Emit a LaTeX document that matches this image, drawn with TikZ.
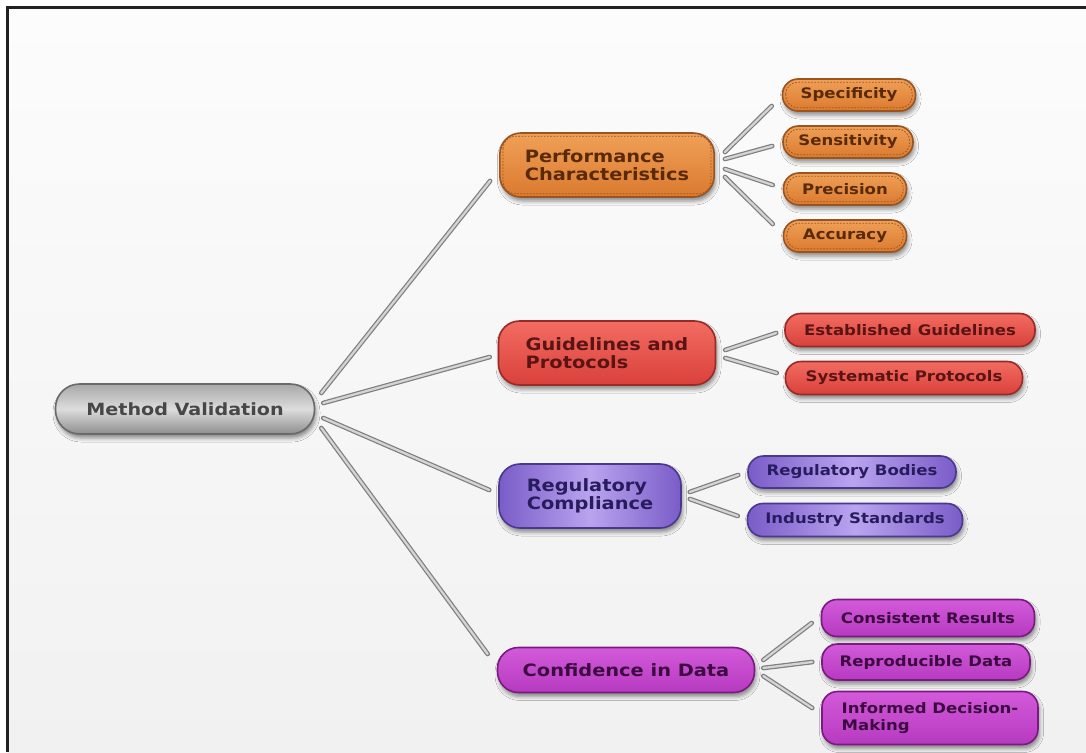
\documentclass[tikz,border=0pt]{standalone}
\usepackage{fontspec}
\newfontfamily\df[FakeStretch=1.14]{DejaVu Sans}
\usetikzlibrary{shadows.blur}
\definecolor{bgtop}{HTML}{FCFCFC}
\definecolor{bgbot}{HTML}{F1F1F1}
\definecolor{framecol}{HTML}{222222}
\definecolor{orA}{HTML}{F0A058}
\definecolor{orB}{HTML}{DA7A2E}
\definecolor{orD}{HTML}{9A5420}
\definecolor{orT}{HTML}{5A2A08}
\definecolor{rdA}{HTML}{F26C62}
\definecolor{rdB}{HTML}{D9413A}
\definecolor{rdD}{HTML}{9A2A26}
\definecolor{rdT}{HTML}{5A1414}
\definecolor{puA}{HTML}{7A5CC8}
\definecolor{puM}{HTML}{B9A4EF}
\definecolor{puD}{HTML}{4A3890}
\definecolor{puT}{HTML}{281C5E}
\definecolor{mgA}{HTML}{D35ADA}
\definecolor{mgB}{HTML}{B63AC0}
\definecolor{mgD}{HTML}{7A1A80}
\definecolor{mgT}{HTML}{3C0A40}
\definecolor{gyA}{HTML}{A8A8A8}
\definecolor{gyM}{HTML}{DCDCDC}
\definecolor{gyB}{HTML}{8E8E8E}
\definecolor{gyD}{HTML}{6A6A6A}
\definecolor{gyT}{HTML}{474747}
\definecolor{rodD}{HTML}{7E7E7E}
\definecolor{rodL}{HTML}{D4D4D4}
\begin{document}
\begin{tikzpicture}[x=1pt,y=-1pt,
  base/.style={line width=1.6pt, blur shadow={shadow xshift=1.5pt, shadow yshift=-4pt, shadow opacity=45, shadow blur radius=4pt}, inner ysep=2pt},
  rootbox/.style={base, rounded corners=24pt, minimum width=259pt, minimum height=50pt,
     top color=gyA, bottom color=gyB, middle color=gyM, draw=gyD, text=gyT,
     font=\df\bfseries\fontsize{16.8}{18}\selectfont},
  midbox/.style={base, rounded corners=21pt, inner xsep=25pt, align=left,
     font=\df\bfseries\fontsize{17}{18}\selectfont},
  leafbox/.style={base, rounded corners=15.5pt, inner xsep=10pt, align=center,
     font=\df\bfseries\fontsize{14.5}{17}\selectfont},
  orangec/.style={top color=orA, bottom color=orB, draw=orD, text=orT},
  redc/.style={top color=rdA, bottom color=rdB, draw=rdD, text=rdT},
  purplec/.style={left color=puA, right color=puA, middle color=puM, draw=puD, text=puT},
  magentac/.style={top color=mgA, bottom color=mgB, draw=mgD, text=mgT},
  stitch/.style={draw=orD, line width=0.8pt, dash pattern=on 1.6pt off 1.6pt, rounded corners=12pt},
  rod/.style={draw=rodD, line width=1.2pt, double=rodL, double distance=2.3pt, line cap=round}
]
\useasboundingbox (0,0) rectangle (1086,752);
\fill[white] (0,0) rectangle (1086,752);
\shade[top color=bgtop, bottom color=bgbot] (7.5,7.5) rectangle (1086,752);
\draw[line width=2.2pt, framecol] (7.5,752) -- (7.5,7.5) -- (1086,7.5);

% root
\node[rootbox] (root) at (185,409) {Method Validation};

% mid level
\node[midbox, orangec, minimum width=213pt, minimum height=64pt] (perf) at (607,165) {Performance\\Characteristics};
\node[midbox, redc, minimum width=217pt, minimum height=64pt] (guide) at (607,353) {Guidelines and\\Protocols};
\node[midbox, purplec, minimum width=182pt, minimum height=64pt] (reg) at (590,496) {Regulatory\\Compliance};
\node[midbox, magentac, minimum width=257pt, minimum height=45pt] (conf) at (626,670) {Confidence in Data};

% leaves
\node[leafbox, orangec, minimum width=133pt, minimum height=32pt] (spec) at (849,95) {Specificity};
\node[leafbox, orangec, minimum width=130pt, minimum height=32pt] (sens) at (848,142) {Sensitivity};
\node[leafbox, orangec, minimum width=123pt, minimum height=32pt] (prec) at (845,189) {Precision};
\node[leafbox, orangec, minimum width=123pt, minimum height=32pt] (acc) at (845,236) {Accuracy};

\node[leafbox, redc, minimum width=250pt, minimum height=33pt] (estab) at (910,330) {Established Guidelines};
\node[leafbox, redc, minimum width=237pt, minimum height=33pt] (syst) at (904,378) {Systematic Protocols};

\node[leafbox, purplec, minimum width=208pt, minimum height=32pt] (bodies) at (852,472) {Regulatory Bodies};
\node[leafbox, purplec, minimum width=215pt, minimum height=33pt] (indus) at (855,520) {Industry Standards};

\node[leafbox, magentac, minimum width=213pt, minimum height=37pt] (consist) at (928,618) {Consistent Results};
\node[leafbox, magentac, minimum width=208pt, minimum height=36pt] (repro) at (926,662) {Reproducible Data};
\node[leafbox, magentac, align=left, minimum width=216pt, minimum height=53pt] (inform) at (930,718) {Informed Decision-\\Making};

% stitching on orange boxes
\foreach \n in {perf,spec,sens,prec,acc}
  \draw[stitch] ([shift={(4,4)}]\n.north west) rectangle ([shift={(-4,-4)}]\n.south east);

% connectors from root
\draw[rod] ([shift={(6,-16)}]root.east) -- ([shift={(-9,16)}]perf.west);
\draw[rod] ([shift={(8,-6)}]root.east) -- ([shift={(-8,4)}]guide.west);
\draw[rod] ([shift={(8,9)}]root.east) -- ([shift={(-9,-6)}]reg.west);
\draw[rod] ([shift={(6,19)}]root.east) -- ([shift={(-9,-16)}]conf.west);

% performance children
\draw[rod] ([shift={(10,-13)}]perf.east) -- ([shift={(-10,11)}]spec.west);
\draw[rod] ([shift={(10,-6)}]perf.east) -- ([shift={(-10,4)}]sens.west);
\draw[rod] ([shift={(10,4)}]perf.east) -- ([shift={(-10,-4)}]prec.west);
\draw[rod] ([shift={(10,12)}]perf.east) -- ([shift={(-10,-12)}]acc.west);

% guidelines children
\draw[rod] ([shift={(9,-3)}]guide.east) -- ([shift={(-8,3)}]estab.west);
\draw[rod] ([shift={(9,5)}]guide.east) -- ([shift={(-8,-5)}]syst.west);

% regulatory children
\draw[rod] ([shift={(8,-4)}]reg.east) -- ([shift={(-9,3)}]bodies.west);
\draw[rod] ([shift={(8,3)}]reg.east) -- ([shift={(-9,-4)}]indus.west);

% confidence children
\draw[rod] ([shift={(8,-10)}]conf.east) -- ([shift={(-9,5)}]consist.west);
\draw[rod] ([shift={(8,-2)}]conf.east) -- ([shift={(-9,0)}]repro.west);
\draw[rod] ([shift={(8,6)}]conf.east) -- ([shift={(-9,-10)}]inform.west);
\end{tikzpicture}
\end{document}
